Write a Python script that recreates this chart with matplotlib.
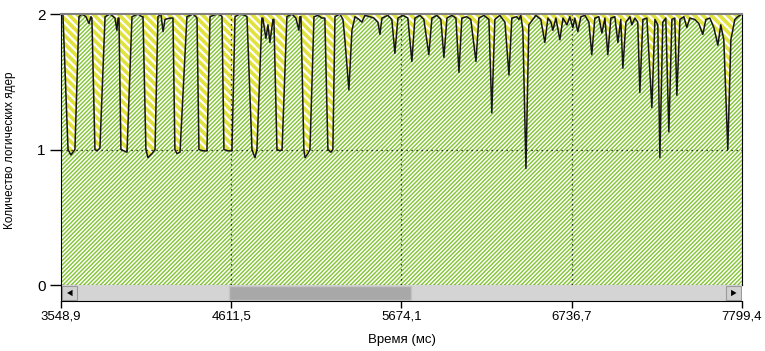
import matplotlib.pyplot as plt
from matplotlib.patches import Rectangle, Polygon

plt.rcParams['font.family'] = ['Liberation Sans', 'DejaVu Sans']
plt.rcParams['hatch.color'] = 'white'
plt.rcParams['hatch.linewidth'] = 1.1

# CPU utilisation (logical cores in use) over time, ms
time_ms = [
    3549, 3561, 3593, 3611, 3636, 3661, 3680, 3705, 3724, 3736,
    3742, 3761, 3774, 3792, 3824, 3855, 3886, 3898, 3905,
    3911, 3923, 3942, 3961, 3992, 4029, 4054,
    4061, 4079, 4092, 4117, 4136, 4154, 4173, 4186, 4198, 4229,
    4248, 4260, 4273, 4292, 4335, 4373, 4391,
    4398, 4410, 4435, 4460, 4479, 4522, 4547,
    4554, 4566, 4591, 4616, 4635, 4666, 4697,
    4710, 4741, 4760, 4772, 4803, 4809, 4828, 4841, 4853, 4872,
    4878, 4897, 4916, 4929, 4959, 4990, 5015, 5034, 5040,
    5047, 5065, 5072, 5090, 5103, 5128, 5153, 5178,
    5196, 5215, 5234, 5246, 5259, 5290, 5309,
    5321, 5346, 5365, 5384,
    5409, 5427, 5446, 5477, 5502, 5527, 5540, 5552, 5589, 5614, 5633, 5652,
    5683, 5714, 5739, 5758, 5789, 5814, 5845, 5864, 5895, 5920, 5939, 5958,
    5989, 6014, 6033, 6051, 6082, 6107, 6139, 6157, 6189, 6220, 6238, 6257,
    6288, 6320, 6345, 6363, 6394, 6407, 6419,
    6432, 6451, 6469, 6494, 6513, 6544, 6569, 6588, 6607, 6619, 6638, 6663,
    6682, 6707, 6725, 6744, 6756, 6775, 6794, 6819, 6844, 6862, 6881, 6906,
    6925, 6944, 6962, 6981, 7006, 7025, 7043, 7056, 7075, 7100, 7112, 7131,
    7149, 7162, 7181, 7206, 7237, 7256, 7274, 7287, 7305, 7324, 7343, 7362,
    7380, 7393, 7412, 7437, 7455, 7474, 7505, 7530, 7555, 7574, 7599, 7624,
    7649, 7667, 7686, 7711, 7730, 7755, 7773, 7799,
]
cores = [
    2.00, 2.00, 1.00, 0.96, 1.00, 1.98, 2.00, 1.98, 1.93, 1.98,
    1.97, 1.00, 0.99, 1.01, 1.98, 2.00, 1.97, 1.88, 1.97,
    1.97, 1.00, 0.99, 0.98, 1.98, 2.00, 1.98,
    1.98, 1.00, 0.94, 0.97, 1.00, 1.98, 2.00, 1.87, 1.96, 1.97,
    1.97, 1.00, 0.97, 0.98, 1.98, 2.00, 1.98,
    1.97, 1.00, 0.99, 0.99, 1.98, 2.00, 1.99,
    1.98, 1.00, 0.99, 0.99, 1.98, 2.00, 1.99,
    1.98, 1.00, 0.94, 1.00, 1.97, 1.97, 1.82, 1.92, 1.79, 1.96,
    1.96, 1.00, 0.99, 1.00, 1.98, 2.00, 1.97, 1.88, 1.98,
    1.98, 1.00, 0.94, 0.97, 1.00, 1.98, 1.99, 1.97,
    1.97, 1.00, 0.98, 1.00, 1.98, 2.00, 1.96,
    1.81, 1.44, 1.88, 1.98,
    1.96, 1.94, 1.99, 1.98, 1.97, 1.94, 1.85, 1.97, 1.99, 1.96, 1.71, 1.97,
    1.99, 1.97, 1.65, 1.97, 1.99, 1.96, 1.70, 1.97, 1.99, 1.96, 1.68, 1.97,
    1.99, 1.97, 1.57, 1.97, 1.98, 1.96, 1.65, 1.97, 1.99, 1.96, 1.27, 1.96,
    1.99, 1.94, 1.55, 1.97, 1.98, 1.96, 1.99,
    1.88, 0.86, 1.92, 1.96, 1.99, 1.96, 1.79, 1.97, 1.94, 1.88, 1.97, 1.81,
    1.97, 1.92, 1.98, 1.90, 1.97, 1.87, 1.98, 1.99, 1.94, 1.70, 1.97, 1.98,
    1.86, 1.97, 1.70, 1.97, 1.98, 1.79, 1.96, 1.60, 1.94, 1.98, 1.92, 1.97,
    1.94, 1.42, 1.96, 1.97, 1.31, 1.96, 1.92, 0.94, 1.94, 1.97, 1.13, 1.96,
    1.97, 1.40, 1.96, 1.98, 1.90, 1.97, 1.96, 1.93, 1.85, 1.96, 1.97, 1.90,
    1.77, 1.92, 1.81, 1.00, 1.81, 1.96, 1.98, 2.00,
]

x_ticks = [3548.9, 4611.5, 5674.1, 6736.7, 7799.4]
x_labels = ['3548,9', '4611,5', '5674,1', '6736,7', '7799,4']
y_ticks = [0, 1, 2]
max_cores = 2
view_start, view_end = 4598, 5733  # visible window shown by the scroll thumb

fig = plt.figure(figsize=(7.65, 3.51), dpi=100)
ax = fig.add_axes([0.0797, 0.188, 0.8902, 0.7721])

ax.fill_between(time_ms, 0, cores, facecolor='#84C435', edgecolor='white',
                hatch='////////', linewidth=0)
top = ax.fill_between(time_ms, cores, max_cores, facecolor='#E2E23E',
                      edgecolor='white', hatch='\\\\\\\\', linewidth=0)
if hasattr(top, 'set_hatch_linewidth'):
    top.set_hatch_linewidth(1.6)
ax.plot(time_ms, cores, color='#151515', lw=1.1)

ax.set_xlim(x_ticks[0], x_ticks[-1])
ax.set_ylim(0, max_cores)
ax.axhline(1, color='black', lw=0.9, ls=(0, (1, 3)))
for t in x_ticks[1:-1]:
    ax.axvline(t, color='black', lw=0.9, ls=(0, (1, 3)))

ax.set_xticks([])
ax.set_yticks(y_ticks)
ax.tick_params(axis='y', length=8, width=1, labelsize=11, pad=3)
ax.spines['top'].set_color('#808080')
ax.spines['top'].set_linewidth(1.5)
for s in ['left', 'right', 'bottom']:
    ax.spines[s].set_color('black')

# scroll bar under the plot
sax = fig.add_axes([0.0797, 0.1425, 0.8902, 0.0456])
sax.set_xlim(x_ticks[0], x_ticks[-1])
sax.set_ylim(0, 1)
sax.set_facecolor('#D4D4D4')
sax.axvspan(view_start, view_end, ymin=0.06, ymax=0.94, facecolor='#A8A8A8',
            edgecolor='#C4C4C4', lw=1)
for x0, pts in [(0.002, [(0.017, 0.3), (0.017, 0.7), (0.009, 0.5)]),
                (0.977, [(0.984, 0.3), (0.984, 0.7), (0.992, 0.5)])]:
    sax.add_patch(Rectangle((x0, 0.06), 0.021, 0.88, transform=sax.transAxes,
                            facecolor='#D0D0D0', edgecolor='#9A9A9A', lw=0.8))
    sax.add_patch(Polygon(pts, closed=True, transform=sax.transAxes,
                          facecolor='black', edgecolor='none'))
sax.set_yticks([])
sax.set_xticks(x_ticks, x_labels)
sax.tick_params(axis='x', length=5, width=1, labelsize=9.5, pad=2)
sax.spines['top'].set_visible(False)
sax.spines['right'].set_visible(False)
sax.set_xlabel('Время (мс)', fontsize=9.5, labelpad=8)

fig.text(0.013, 0.573, 'Количество логических ядер', rotation=90,
         ha='center', va='center', fontsize=8.5)

fig.savefig('out.png', dpi=100)
